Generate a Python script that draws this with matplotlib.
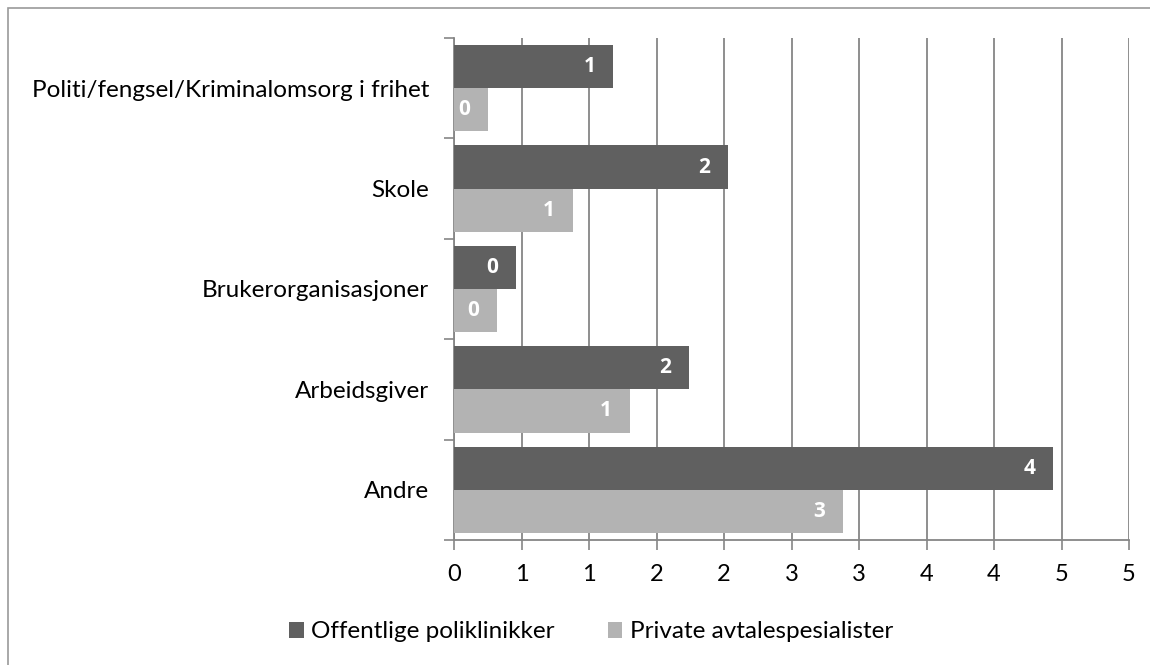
import numpy as np
import matplotlib
matplotlib.use("Agg")
import matplotlib.pyplot as plt
from matplotlib.patches import Rectangle

# data
categories = ["Politi/fengsel/Kriminalomsorg i frihet", "Skole", "Brukerorganisasjoner",
              "Arbeidsgiver", "Andre"]
offentlige = [1.18, 2.03, 0.46, 1.74, 4.44]
private = [0.25, 0.88, 0.32, 1.30, 2.88]
series_names = ["Offentlige poliklinikker", "Private avtalespesialister"]
x_ticks = np.arange(0, 5.01, 0.5)

dark = "#606060"
light = "#b3b3b3"
grid_col = "#868686"

plt.rcParams['font.family'] = ['Lato', 'DejaVu Sans']

fig = plt.figure(figsize=(11.5, 6.65), dpi=100)
ax = fig.add_axes([454 / 1150, 1 - 540 / 665, 675 / 1150, 502 / 665])

# outer chart border
fig.patches.append(Rectangle((8 / 1150, -0.01), 1.0, 1 - 8 / 665 + 0.01,
                             transform=fig.transFigure, fill=False,
                             edgecolor="#9a9a9a", linewidth=1.2))

y = np.arange(len(categories))
h = 0.43
b1 = ax.barh(y - h / 2, offentlige, height=h, color=dark, label=series_names[0], zorder=3)
b2 = ax.barh(y + h / 2, private, height=h, color=light, label=series_names[1], zorder=3)

# value labels: rounded, white, bold, inside the end of each bar
for bars, vals in [(b1, offentlige), (b2, private)]:
    for bar, v in zip(bars, vals):
        ax.annotate(str(int(np.floor(v + 0.5))), (v, bar.get_y() + bar.get_height() / 2),
                    xytext=(-17, 0), textcoords="offset points",
                    ha="center", va="center", color="white", fontsize=15,
                    fontweight="bold", family=["Open Sans", "DejaVu Sans"], zorder=4)

ax.set_xlim(0, 5)
ax.set_ylim(len(categories) - 0.5, -0.5)
ax.set_xticks(x_ticks)
ax.set_xticklabels([str(int(np.floor(t + 0.5))) for t in x_ticks], fontsize=17)
ax.set_yticks(y)
ax.set_yticklabels(categories, fontsize=17.5)
ax.set_yticks(np.arange(-0.5, len(categories)), minor=True)

ax.tick_params(axis="y", which="major", length=0, pad=18)
ax.tick_params(axis="y", which="minor", length=7, color=grid_col, width=1.2)
ax.tick_params(axis="x", length=7, color=grid_col, width=1.2, pad=10)

ax.grid(axis="x", color=grid_col, linewidth=1.3, zorder=0)
for side in ["top", "right"]:
    ax.spines[side].set_visible(False)
for side in ["left", "bottom"]:
    ax.spines[side].set_color(grid_col)
    ax.spines[side].set_linewidth(1.3)

fig.legend(handles=[b1, b2], labels=series_names, loc="center",
           bbox_to_anchor=(591 / 1150, 1 - 632 / 665), ncol=2, frameon=False,
           fontsize=17.5, handlelength=0.6, handleheight=0.6, handletextpad=0.3,
           columnspacing=2.2)

fig.savefig("out.png", dpi=100)
